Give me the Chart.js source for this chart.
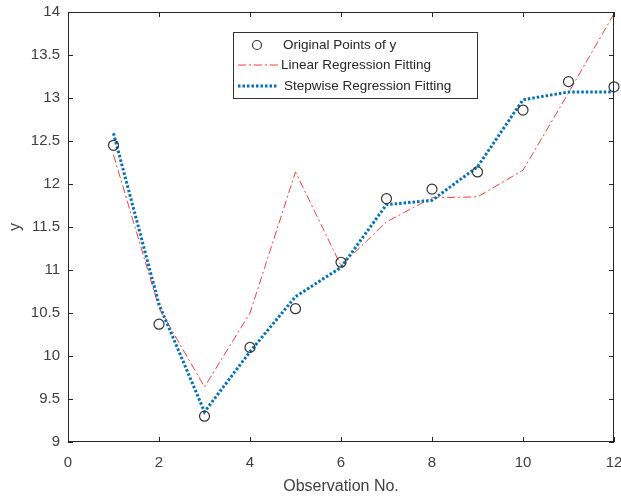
<!DOCTYPE html>
<html>
<head>
<meta charset="utf-8">
<script src="https://cdn.jsdelivr.net/npm/chart.js@4/dist/chart.umd.min.js"></script>
<style>
  html, body { margin: 0; padding: 0; background: #fff; }
  #wrap { width: 621px; height: 497px; }
</style>
</head>
<body>
<div id="wrap"><canvas id="chart" width="621" height="497"></canvas></div>
<script>
// ── DATA ──
const obsNo      = [1, 2, 3, 4, 5, 6, 7, 8, 9, 10, 11, 12];
const yOriginal  = [12.45, 10.37, 9.30, 10.10, 10.55, 11.09, 11.83, 11.94, 12.14, 12.86, 13.19, 13.13];
const yLinear    = [12.34, 10.56, 9.64, 10.50, 12.14, 11.05, 11.56, 11.84, 11.85, 12.16, 13.06, 13.98];
const yStepwise  = [12.59, 10.60, 9.35, 10.05, 10.69, 11.03, 11.76, 11.81, 12.20, 12.98, 13.07, 13.07];
const xTicks     = [0, 2, 4, 6, 8, 10, 12];
const yTicks     = [9, 9.5, 10, 10.5, 11, 11.5, 12, 12.5, 13, 13.5, 14];
const seriesNames = ['Original Points of y', 'Linear Regression Fitting', 'Stepwise Regression Fitting'];

const axisColor = '#262626';
const textColor = '#404040';
const redCol  = '#ff3b3b';
const blueCol = '#0072BD';
const FONT = 'Liberation Sans, Arial, Helvetica, sans-serif';

const toPts = ys => obsNo.map((x, i) => ({ x: x, y: ys[i] }));

// ── MATLAB-STYLE BOX, INWARD TICKS AND LEGEND ──
const matlabBox = {
    id: 'matlabBox',
    afterDraw(chart) {
        const ctx = chart.ctx;
        const a = chart.chartArea;
        const xs = chart.scales.x, ys = chart.scales.y;
        ctx.save();
        ctx.strokeStyle = axisColor;
        ctx.lineWidth = 1;
        ctx.setLineDash([]);
        ctx.strokeRect(a.left + 0.5, a.top + 0.5, a.right - a.left - 1, a.bottom - a.top - 1);
        const tl = 5;
        ctx.beginPath();
        xTicks.forEach(v => {
            const px = Math.round(xs.getPixelForValue(v)) + 0.5;
            ctx.moveTo(px, a.bottom); ctx.lineTo(px, a.bottom - tl);
            ctx.moveTo(px, a.top);    ctx.lineTo(px, a.top + tl);
        });
        yTicks.forEach(v => {
            const py = Math.round(ys.getPixelForValue(v)) + 0.5;
            ctx.moveTo(a.left, py);  ctx.lineTo(a.left + tl, py);
            ctx.moveTo(a.right, py); ctx.lineTo(a.right - tl, py);
        });
        ctx.stroke();

        // legend box
        const lx = 233, ly = 32, lw = 244, lh = 66;
        ctx.fillStyle = '#fff';
        ctx.fillRect(lx, ly, lw, lh);
        ctx.strokeStyle = '#333';
        ctx.strokeRect(lx + 0.5, ly + 0.5, lw, lh);

        const rows = [45, 65, 86];
        ctx.strokeStyle = '#333';
        ctx.lineWidth = 1.2;
        ctx.beginPath();
        ctx.arc(257, rows[0], 4.5, 0, Math.PI * 2);
        ctx.stroke();
        ctx.strokeStyle = redCol;
        ctx.lineWidth = 1;
        ctx.setLineDash([8, 3, 2, 3]);
        ctx.beginPath();
        ctx.moveTo(238, rows[1]); ctx.lineTo(278, rows[1]);
        ctx.stroke();
        ctx.strokeStyle = blueCol;
        ctx.lineWidth = 3;
        ctx.setLineDash([2.5, 2]);
        ctx.beginPath();
        ctx.moveTo(238, rows[2]); ctx.lineTo(278, rows[2]);
        ctx.stroke();
        ctx.setLineDash([]);

        ctx.fillStyle = '#262626';
        ctx.font = '13.5px ' + FONT;
        ctx.textBaseline = 'middle';
        ctx.textAlign = 'left';
        ctx.fillText(seriesNames[0], 283, rows[0]);
        ctx.fillText(seriesNames[1], 281, rows[1]);
        ctx.fillText(seriesNames[2], 284, rows[2]);
        ctx.restore();
    }
};

new Chart(document.getElementById('chart'), {
    type: 'line',
    data: {
        datasets: [
            {
                label: seriesNames[0],
                data: toPts(yOriginal),
                showLine: false,
                pointStyle: 'circle',
                pointRadius: 5,
                pointBorderWidth: 1.2,
                pointBorderColor: '#333',
                pointBackgroundColor: 'rgba(0,0,0,0)',
                clip: false,
                order: 0
            },
            {
                label: seriesNames[1],
                data: toPts(yLinear),
                borderColor: redCol,
                borderWidth: 1,
                borderDash: [8, 3, 2, 3],
                pointRadius: 0,
                tension: 0,
                order: 2
            },
            {
                label: seriesNames[2],
                data: toPts(yStepwise),
                borderColor: blueCol,
                borderWidth: 3,
                borderDash: [2.5, 2],
                pointRadius: 0,
                tension: 0,
                order: 1
            }
        ]
    },
    options: {
        responsive: false,
        animation: false,
        devicePixelRatio: 1,
        layout: { padding: { left: 0, right: 7, top: 12, bottom: 0 } },
        plugins: { legend: { display: false }, tooltip: { enabled: false } },
        scales: {
            x: {
                type: 'linear',
                min: 0, max: 12,
                afterBuildTicks: s => { s.ticks = xTicks.map(v => ({ value: v })); },
                afterFit: s => { s.height = 55; s.paddingLeft = 0; s.paddingRight = 0; },
                grid: { display: false, drawTicks: false },
                border: { display: false },
                ticks: { color: textColor, padding: 12, font: { family: FONT, size: 15 }, maxRotation: 0, callback: v => String(v) },
                title: { display: true, text: 'Observation No.', color: textColor, padding: { top: 0, bottom: 1 }, font: { family: FONT, size: 16 } }
            },
            y: {
                type: 'linear',
                min: 9, max: 14,
                afterBuildTicks: s => { s.ticks = yTicks.map(v => ({ value: v })); },
                afterFit: s => { s.width = 68; s.paddingTop = 0; s.paddingBottom = 0; },
                grid: { display: false, drawTicks: false },
                border: { display: false },
                ticks: { color: textColor, padding: 8, font: { family: FONT, size: 15 }, callback: v => String(v) },
                title: { display: true, text: 'y', color: textColor, padding: { top: 6, bottom: 0 }, font: { family: FONT, size: 16 } }
            }
        }
    },
    plugins: [matlabBox]
});
</script>
</body>
</html>
